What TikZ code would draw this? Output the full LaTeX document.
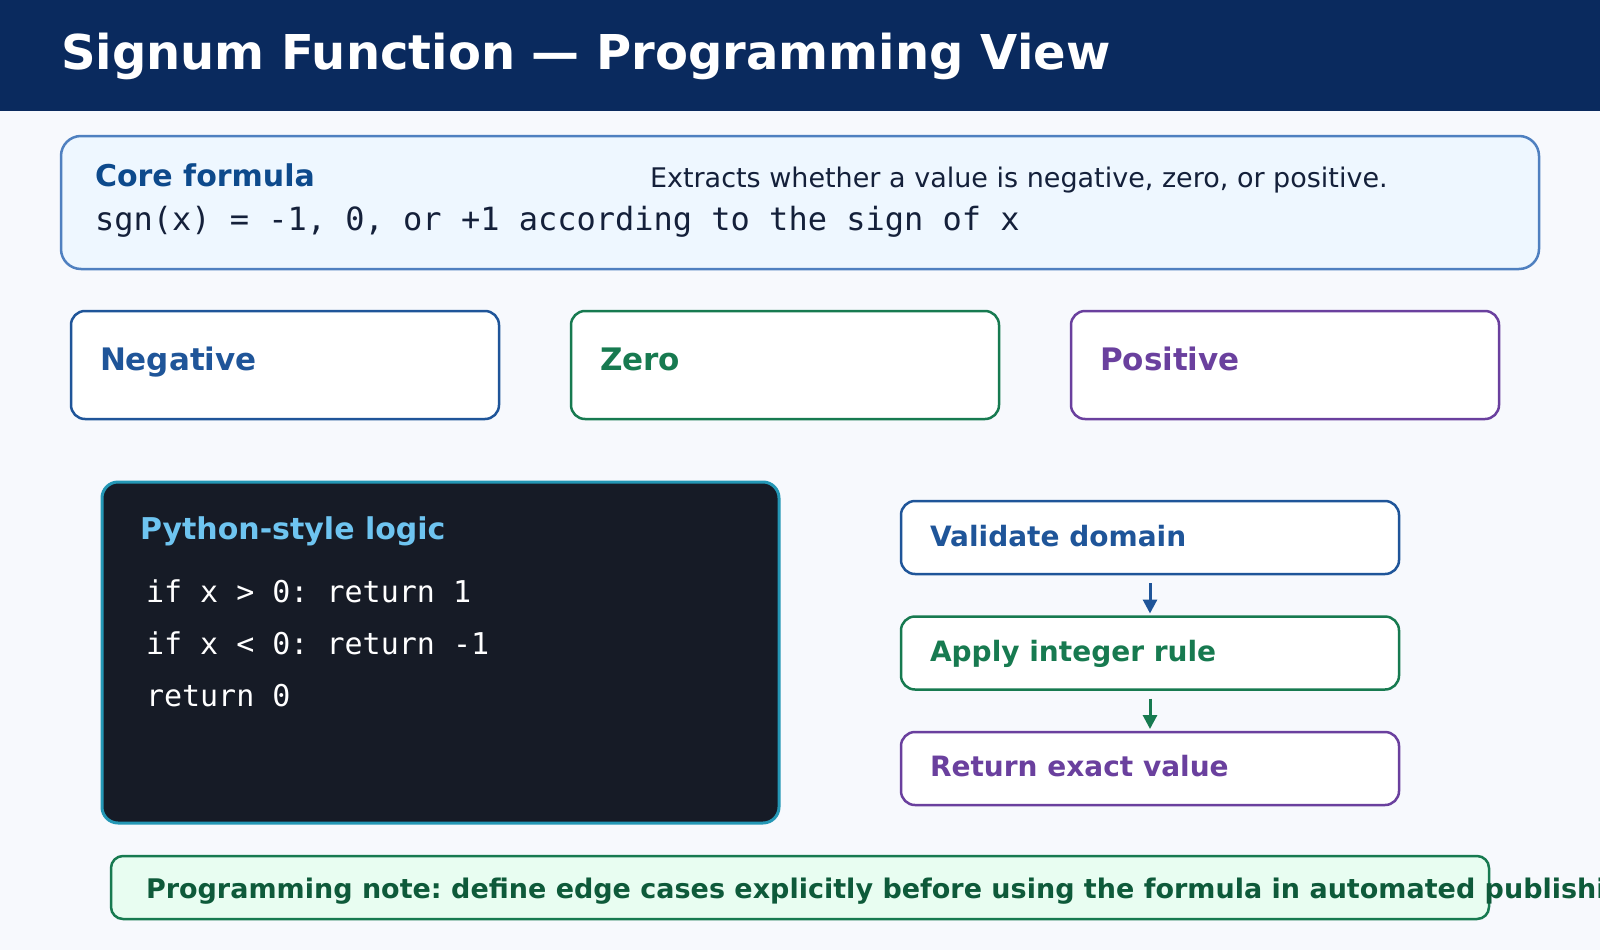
\documentclass[tikz,border=0pt]{standalone}
\usepackage{fontspec}
\setmainfont{DejaVu Sans}
\setmonofont{DejaVu Sans Mono}
\usetikzlibrary{positioning,arrows.meta}

\definecolor{pagebg}{HTML}{F7F9FD}
\definecolor{headbg}{HTML}{0A2A5E}
\definecolor{corefill}{HTML}{EEF7FF}
\definecolor{coreline}{HTML}{4F80C0}
\definecolor{coretitle}{HTML}{0D4A8C}
\definecolor{inkdark}{HTML}{14203A}
\definecolor{negcol}{HTML}{1F5599}
\definecolor{zerocol}{HTML}{177A50}
\definecolor{poscol}{HTML}{6A409E}
\definecolor{codebg}{HTML}{161B26}
\definecolor{codeline}{HTML}{2497B5}
\definecolor{codetitle}{HTML}{6EC4F0}
\definecolor{notefill}{HTML}{E8FDF1}
\definecolor{notetext}{HTML}{0E5A3A}

\newcommand{\fsz}[1]{\fontsize{#1}{#1}\selectfont}
\frenchspacing

\begin{document}
\begin{tikzpicture}[x=1pt,y=-1pt,
    every node/.style={inner sep=0pt,outer sep=0pt},
    casebox/.style={draw=#1,rounded corners=14pt,line width=2.5pt,fill=white,
        minimum width=428pt,minimum height=108pt},
    stepbox/.style={draw=#1,rounded corners=14pt,line width=2.5pt,fill=white,
        minimum width=498pt,minimum height=73pt},
    boxlabel/.style={anchor=base west,font=\fsz{30}\bfseries,text=#1},
    caselabel/.style={anchor=base west,font=\fsz{31}\bfseries,text=#1},
    steplabel/.style={anchor=base west,font=\fsz{28}\bfseries,text=#1},
    codetext/.style={anchor=base west,font=\fsz{30}\ttfamily,text=white},
    flowarrow/.style={draw=#1,line width=3pt,-{Triangle[length=14pt,width=14pt]},
        shorten <=9pt,shorten >=3pt}
]
\useasboundingbox (0,0) rectangle (1600,950);
\clip (0,0) rectangle (1600,950);
\fill[pagebg] (0,0) rectangle (1600,950);

% header
\fill[headbg] (0,0) rectangle (1600,111);
\node[anchor=base west,font=\fsz{48}\bfseries,text=white] (title) at (61,70)
    {Signum Function — Programming View};

% core formula
\node[draw=coreline,fill=corefill,line width=2.5pt,rounded corners=20pt,
    minimum width=1478pt,minimum height=133pt] (core) at (800,202.5) {};
\node[boxlabel=coretitle] (corehead) at (95,186) {Core formula};
\node[anchor=base west,font=\fsz{27},text=inkdark] (coredesc) at (650,187)
    {Extracts whether a value is negative, zero, or positive.};
\node[anchor=base west,font=\fsz{32}\ttfamily,text=inkdark] (coreeq) at (95,230)
    {sgn(x) = -1, 0, or +1 according to the sign of x};

% the three cases
\node[casebox=negcol] (neg) at (285,365) {};
\node[casebox=zerocol] (zero) at (785,365) {};
\node[casebox=poscol] (pos) at (1285,365) {};
\node[caselabel=negcol] (neglabel) at (100,370) {Negative};
\node[caselabel=zerocol] (zerolabel) at (600,370) {Zero};
\node[caselabel=poscol] (poslabel) at (1100,370) {Positive};

% code panel
\node[draw=codeline,fill=codebg,line width=3pt,rounded corners=16pt,
    minimum width=677pt,minimum height=341pt] (code) at (440.5,652.5) {};
\node[boxlabel=codetitle] (codehead) at (140,539) {Python-style logic};
\node[codetext] (line1) at (146,602) {if x > 0: return 1};
\node[codetext] (line2) at (146,654) {if x < 0: return -1};
\node[codetext] (line3) at (146,706) {return 0};

% steps
\node[stepbox=negcol] (validate) at (1150,537.5) {};
\node[stepbox=zerocol] (apply) at (1150,653) {};
\node[stepbox=poscol] (result) at (1150,768.5) {};
\node[steplabel=negcol] at (930,546) {Validate domain};
\node[steplabel=zerocol] at (930,661) {Apply integer rule};
\node[steplabel=poscol] at (930,776) {Return exact value};
\path[flowarrow=negcol] (validate) -- (apply);
\path[flowarrow=zerocol] (apply) -- (result);

% note
\node[draw=zerocol,fill=notefill,line width=2.5pt,rounded corners=12pt,
    minimum width=1378pt,minimum height=63pt] (note) at (800,887.5) {};
\node[anchor=base west,font=\fsz{27}\bfseries,text=notetext] (notetxt) at (146,898)
    {Programming note: define edge cases explicitly before using the formula in automated publishing.};
\end{tikzpicture}
\end{document}
